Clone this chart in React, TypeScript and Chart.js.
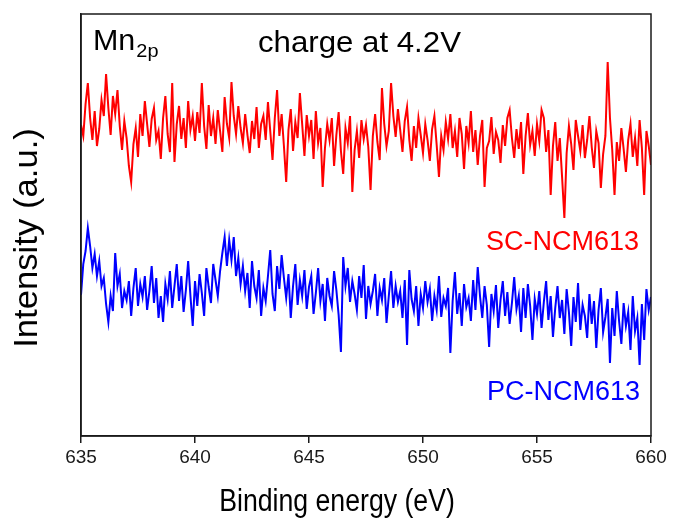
import React, { useEffect, useRef } from "react";
import { Chart, registerables } from "chart.js";

Chart.register(...registerables);

// Binding energy grid (instrument step 0.1 eV from 635 to 660 eV)
const energyStart = 635;
const energyStep = 0.1;
const xTicks = [635, 640, 645, 650, 655, 660];

// SC-NCM613 intensity (a.u.)
const scIntensity = [
  311, 300, 332, 353, 318, 296, 325, 290, 307, 336,
  320, 362, 328, 301, 340, 322, 346, 310, 286, 315,
  298, 270, 254, 292, 308, 279, 322, 300, 335, 312,
  289, 317, 328, 296, 305, 277, 318, 340, 302, 284,
  353, 274, 312, 330, 297, 318, 288, 335, 306, 320,
  295, 324, 303, 353, 310, 287, 331, 300, 318, 292,
  326, 305, 284, 339, 312, 298, 354, 320, 302, 330,
  308, 293, 322, 301, 283, 315, 297, 329, 288, 312,
  320, 296, 334, 305, 276, 318, 346, 300, 322, 290,
  254, 306, 327, 285, 314, 298, 343, 312, 280, 321,
  300, 316, 277, 325, 293, 308, 249, 288, 312, 296,
  318, 270, 301, 324, 285, 262, 308, 293, 320, 244,
  286, 305, 278, 316, 297, 311, 289, 246, 300, 322,
  294, 276, 348, 312, 290, 305, 353, 320, 299, 327,
  306, 284, 315, 329, 296, 275, 310, 288, 318, 301,
  283, 312, 296, 275, 307, 320, 291, 259, 300, 286,
  314, 297, 322, 288, 305, 279, 318, 302, 267, 310,
  293, 325, 284, 306, 271, 300, 316, 249, 288, 295,
  319, 282, 304, 296, 273, 311, 290, 318, 326, 298,
  278, 307, 287, 314, 262, 300, 323, 291, 305, 280,
  312, 295, 326, 318, 284, 306, 241, 290, 314, 275,
  298, 259, 218, 283, 310, 292, 266, 316, 300, 285,
  311, 278, 296, 320, 289, 268, 305, 293, 248, 282,
  300, 374, 318, 286, 241, 294, 275, 308, 287, 264,
  296, 312, 279, 298, 270, 316, 288, 241, 305, 290,
  271,
];

// PC-NCM613 intensity (a.u.)
const pcIntensity = [
  141, 172, 185, 208, 190, 168, 182, 160, 175, 150,
  158, 132, 114, 140, 125, 183, 150, 162, 128, 145,
  136, 155, 120, 148, 168, 130, 152, 139, 160, 126,
  145, 170, 133, 158, 118, 140, 114, 152, 137, 165,
  128, 150, 172, 135, 160, 124, 146, 175, 140, 110,
  155, 130, 162, 143, 120, 168, 149, 133, 172, 156,
  140, 165, 183, 199, 170, 196, 176, 199, 160, 178,
  152, 170, 145, 163, 128, 175, 150, 138, 166, 120,
  148, 135, 160, 186, 142, 125, 170, 147, 181, 158,
  138, 162, 118, 150, 172, 131, 156, 140, 166, 127,
  149, 160, 122, 143, 168, 135, 152, 115, 158, 140,
  130, 165, 146, 121, 84, 179, 150, 168, 134, 155,
  142, 126, 160, 138, 171, 117, 150, 132, 145, 162,
  120, 148, 136, 158, 113, 140, 165, 128, 150, 134,
  145, 118, 156, 91, 166, 137, 125, 150, 110, 142,
  128, 155, 134, 147, 115, 140, 126, 160, 119, 138,
  130, 148, 83, 135, 164, 122, 143, 110, 152, 129,
  138, 115, 156, 126, 169, 140, 118, 150, 131, 89,
  142, 125, 151, 108, 136, 155, 120, 144, 112, 133,
  159, 127, 140, 104, 148, 118, 152, 130, 96, 137,
  122, 145, 108, 134, 155, 116, 140, 99, 128, 150,
  118, 136, 102, 147, 124, 90, 139, 114, 153, 106,
  131, 120, 98, 142, 112, 135, 88, 126, 148, 104,
  119, 137, 73, 128, 100, 145, 115, 92, 133, 110,
  124, 86, 140, 105, 118, 71, 132, 96, 147, 126,
  139,
];

const seriesNames = ["SC-NCM613", "PC-NCM613"];
const seriesColors = ["rgb(255,0,0)", "rgb(0,0,255)"];
const panelLabel = "Mn";
const panelSub = "2p";
const conditionLabel = "charge at 4.2V";
const xTitle = "Binding energy (eV)";
const yTitle = "Intensity (a.u.)";

const FONT = '"Liberation Sans", Arial, Helvetica, sans-serif';

const toPoints = (vals: number[]) =>
  vals.map((v, i) => ({ x: +(energyStart + i * energyStep).toFixed(2), y: v }));

function stretchedText(
  ctx: CanvasRenderingContext2D,
  text: string,
  x: number,
  y: number,
  sx: number,
  align: CanvasTextAlign,
  rotate = 0
) {
  ctx.save();
  ctx.translate(x, y);
  if (rotate) ctx.rotate(rotate);
  ctx.scale(sx, 1);
  ctx.textAlign = align;
  ctx.fillText(text, 0, 0);
  ctx.restore();
}

const annotationPlugin = {
  id: "annotations",
  afterDraw(chart: any) {
    const { ctx, chartArea } = chart;
    const { left, top, right, bottom } = chartArea;
    ctx.save();
    // frame
    ctx.strokeStyle = "#1a1a1a";
    ctx.lineWidth = 1.5;
    ctx.strokeRect(left, top, right - left, bottom - top);

    ctx.textBaseline = "alphabetic";
    ctx.fillStyle = "#000";
    ctx.font = `29px ${FONT}`;
    const mnX = left + 12;
    stretchedText(ctx, panelLabel, mnX, top + 36, 1.05, "left");
    const w = ctx.measureText(panelLabel).width * 1.05;
    ctx.font = `19px ${FONT}`;
    stretchedText(ctx, panelSub, mnX + w + 1, top + 43, 1.05, "left");

    ctx.font = `30px ${FONT}`;
    stretchedText(ctx, conditionLabel, left + 177, top + 38, 1.04, "left");

    ctx.font = `27px ${FONT}`;
    ctx.fillStyle = seriesColors[0];
    stretchedText(ctx, seriesNames[0], right - 12, top + 236, 1, "right");
    ctx.fillStyle = seriesColors[1];
    stretchedText(ctx, seriesNames[1], right - 11, top + 386, 1, "right");

    // axis titles
    ctx.fillStyle = "#000";
    ctx.font = `31px ${FONT}`;
    stretchedText(ctx, xTitle, 337, bottom + 75, 0.86, "center");
    ctx.font = `34px ${FONT}`;
    ctx.textBaseline = "middle";
    stretchedText(ctx, yTitle, 28, 238, 1.02, "center", -Math.PI / 2);
    ctx.restore();
  },
};

export default function App() {
  const canvasRef = useRef<HTMLCanvasElement | null>(null);

  useEffect(() => {
    if (!canvasRef.current) return;
    const chart = new Chart(canvasRef.current, {
      type: "line",
      data: {
        datasets: [
          {
            label: seriesNames[0],
            data: toPoints(scIntensity),
            borderColor: seriesColors[0],
            borderWidth: 2,
            pointRadius: 0,
            tension: 0,
          },
          {
            label: seriesNames[1],
            data: toPoints(pcIntensity),
            borderColor: seriesColors[1],
            borderWidth: 2,
            pointRadius: 0,
            tension: 0,
          },
        ],
      },
      options: {
        animation: false,
        responsive: false,
        maintainAspectRatio: false,
        layout: { padding: { top: 14, right: 23, left: 0, bottom: 0 } },
        plugins: {
          legend: { display: false },
          tooltip: { enabled: false },
        },
        scales: {
          x: {
            type: "linear",
            min: 635,
            max: 660,
            afterFit: (s: any) => {
              s.height = 90;
            },
            afterBuildTicks: (s: any) => {
              s.ticks = xTicks.map((v) => ({ value: v }));
            },
            ticks: {
              font: { family: FONT, size: 19 },
              color: "#1a1a1a",
              padding: 3,
              maxRotation: 0,
            },
            grid: {
              display: true,
              drawOnChartArea: false,
              drawTicks: true,
              tickLength: 7,
              color: "#1a1a1a",
              lineWidth: 1.5,
            },
            border: { display: true, color: "#1a1a1a", width: 1.5 },
            title: { display: false },
          },
          y: {
            type: "linear",
            min: 0,
            max: 422,
            afterFit: (s: any) => {
              s.width = 81;
            },
            ticks: { display: false },
            grid: { display: false },
            border: { display: true, color: "#1a1a1a", width: 1.5 },
            title: { display: false },
          },
        },
      },
      plugins: [annotationPlugin],
    });
    return () => chart.destroy();
  }, []);

  return (
    <div style={{ position: "absolute", left: 0, top: 0, width: 674, height: 526, background: "#fff" }}>
      <canvas ref={canvasRef} width={674} height={526} />
    </div>
  );
}
